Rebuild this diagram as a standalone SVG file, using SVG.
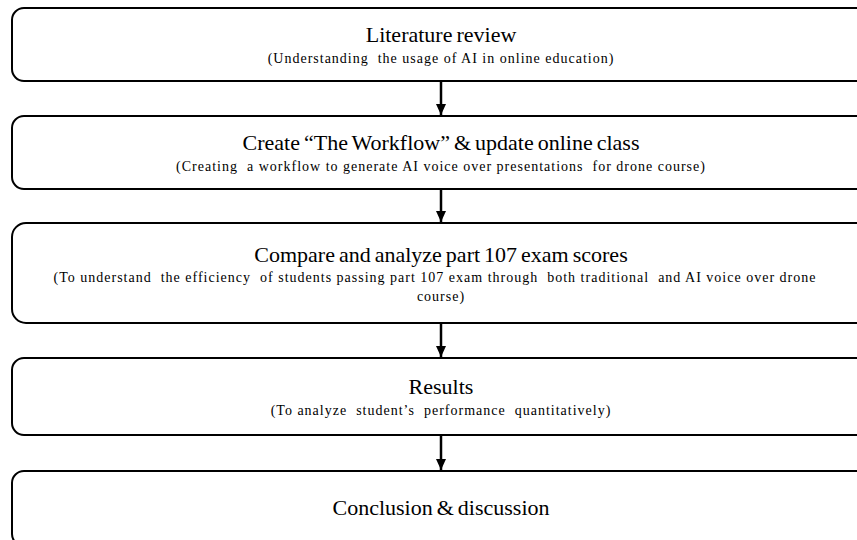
<svg xmlns="http://www.w3.org/2000/svg" width="857" height="540" viewBox="0 0 857 540">
<style>
  .box { fill: #ffffff; stroke: #000000; stroke-width: 2; }
  .title { font-family: "Liberation Serif", "Times New Roman", serif; font-size: 22px; word-spacing: -1.5px; fill: #000000; text-anchor: middle; }
  .sub { font-family: "Liberation Serif", "Times New Roman", serif; font-size: 14px; letter-spacing: 1px; fill: #000000; text-anchor: middle; white-space: pre; }
  .conn { stroke: #000000; stroke-width: 2.5; fill: none; }
</style>
<defs>
  <marker id="arrow" markerUnits="userSpaceOnUse" markerWidth="12" markerHeight="14" refX="11" refY="6" orient="auto">
    <path d="M0,1 L11,6 L0,11 Z" fill="#000000"/>
  </marker>
</defs>
<rect x="0" y="0" width="857" height="540" fill="#ffffff"/>
<g id="connectors">
  <line class="conn" x1="441" y1="81" x2="441" y2="115" marker-end="url(#arrow)"/>
  <line class="conn" x1="441" y1="189" x2="441" y2="222" marker-end="url(#arrow)"/>
  <line class="conn" x1="441" y1="323" x2="441" y2="357" marker-end="url(#arrow)"/>
  <line class="conn" x1="441" y1="435" x2="441" y2="470" marker-end="url(#arrow)"/>
</g>
<g id="node-literature">
  <rect class="box" x="12" y="8" width="862" height="73" rx="12" ry="12"/>
  <text class="title" x="441" y="42">Literature review</text>
  <text class="sub" x="441" y="63">(Understanding  the usage of AI in online education)</text>
</g>
<g id="node-workflow">
  <rect class="box" x="12" y="116" width="862" height="73" rx="12" ry="12"/>
  <text class="title" x="441" y="150">Create “The Workflow” &amp; update online class</text>
  <text class="sub" x="441" y="171">(Creating  a workflow to generate AI voice over presentations  for drone course)</text>
</g>
<g id="node-compare">
  <rect class="box" x="12" y="223" width="862" height="100" rx="14" ry="14"/>
  <text class="title" x="441" y="262">Compare and analyze part 107 exam scores</text>
  <text class="sub" x="435" y="282">(To understand  the efficiency  of students passing part 107 exam through  both traditional  and AI voice over drone</text>
  <text class="sub" x="441" y="301">course)</text>
</g>
<g id="node-results">
  <rect class="box" x="12" y="358" width="862" height="77" rx="12" ry="12"/>
  <text class="title" x="441" y="394">Results</text>
  <text class="sub" x="441" y="415">(To analyze  student’s  performance  quantitatively)</text>
</g>
<g id="node-conclusion">
  <rect class="box" x="12" y="471" width="862" height="75" rx="12" ry="12"/>
  <text class="title" x="441" y="515">Conclusion &amp; discussion</text>
</g>
</svg>
